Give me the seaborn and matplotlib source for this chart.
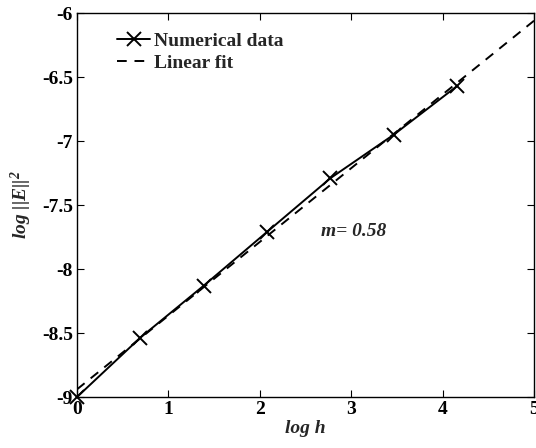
import matplotlib
matplotlib.use("Agg")
import matplotlib.pyplot as plt
import seaborn as sns
import numpy as np
import pandas as pd

# Data
log_h = [0.0, 0.693, 1.386, 2.079, 2.773, 3.466, 4.159]
log_err = [-9.0, -8.536, -8.13, -7.71, -7.29, -6.95, -6.57]
fit_x = [0.0, 5.0]
fit_slope = 0.576
fit_intercept = -8.94
x_ticks = [0, 1, 2, 3, 4, 5]
y_ticks = [-9, -8.5, -8, -7.5, -7, -6.5, -6]
y_tick_labels = ["-9", "-8.5", "-8", "-7.5", "-7", "-6.5", "-6"]

sns.set_theme(style="ticks")
plt.rcParams["font.family"] = ["Liberation Serif", "DejaVu Serif"]
plt.rcParams["font.weight"] = "bold"
plt.rcParams["mathtext.fontset"] = "custom"
plt.rcParams["mathtext.rm"] = "Liberation Serif:bold:italic"
plt.rcParams["mathtext.it"] = "Liberation Serif:bold:italic"
plt.rcParams["mathtext.bf"] = "Liberation Serif:bold:italic"

df = pd.DataFrame({"x": log_h, "y": log_err})
fit_y = [fit_intercept + fit_slope * v for v in fit_x]
dfit = pd.DataFrame({"x": fit_x, "y": fit_y})

fig = plt.figure(figsize=(5.36, 4.48), dpi=100)
ax = fig.add_axes([0.1437, 0.1138, 0.8526, 0.8571])

sns.lineplot(data=df, x="x", y="y", ax=ax, color="black", linewidth=1.4,
             marker="x", markersize=10, markeredgewidth=1.4,
             markeredgecolor="black", markerfacecolor="black",
             label="Numerical data", clip_on=False, zorder=3)
sns.lineplot(data=dfit, x="x", y="y", ax=ax, color="black", linewidth=1.4,
             linestyle=(0, (5, 4)), label="Linear fit")

ax.set_xlim(0, 5)
ax.set_ylim(-9, -6)
ax.set_xticks(x_ticks)
ax.set_xticklabels([str(t) for t in x_ticks])
ax.set_yticks(y_ticks)
ax.set_yticklabels(y_tick_labels)
ax.tick_params(direction="in", top=True, right=True, length=5, width=0.8,
               labelsize=14, colors="black", pad=3)
for lab in ax.get_xticklabels() + ax.get_yticklabels():
    lab.set_fontweight("bold")
for s in ax.spines.values():
    s.set_visible(True)
    s.set_color("black")
    s.set_linewidth(1.0)

ax.set_xlabel("log h", fontsize=14, fontweight="bold", fontstyle="italic", labelpad=1)
ax.set_ylabel(r"$log\ ||E||^2$", fontsize=14, labelpad=6)

ax.text(2.67, -7.705, "m= 0.58", fontsize=14, fontweight="bold",
        fontstyle="italic", ha="left", va="center")

leg = ax.legend(loc="upper left", bbox_to_anchor=(0.05, 0.995), frameon=False,
                handlelength=1.7, handletextpad=0.2, labelspacing=0.2,
                prop={"size": 14, "weight": "bold"})

fig.savefig("out.png", dpi=100)
